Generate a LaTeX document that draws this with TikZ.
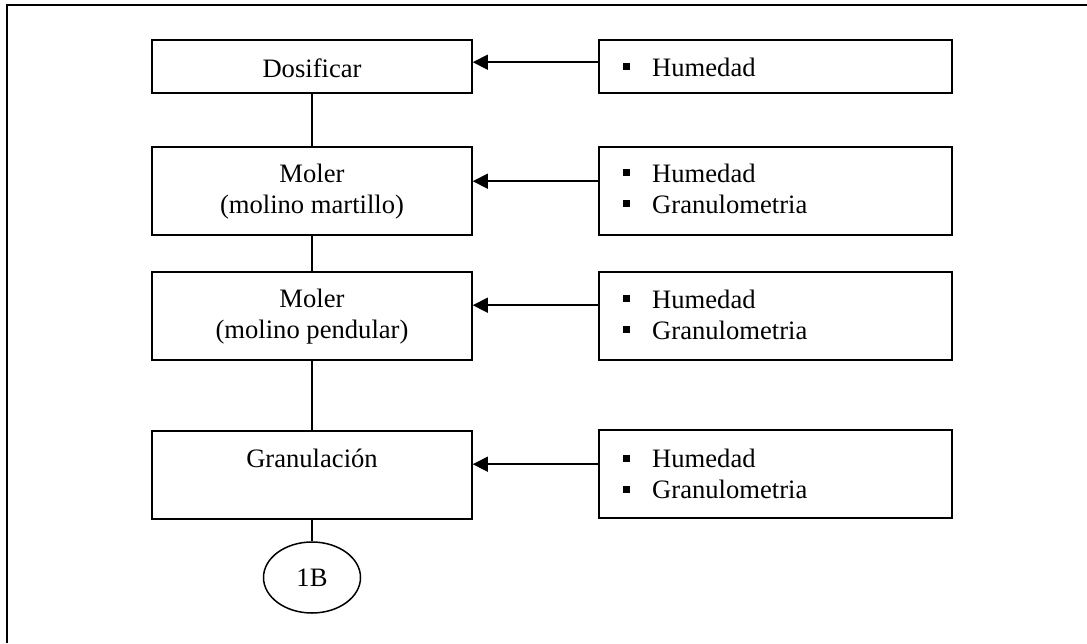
\documentclass[tikz,border=0pt]{standalone}
\usepackage{fontspec}
\setmainfont{Liberation Serif}
\usetikzlibrary{arrows.meta,shapes.geometric}
\begin{document}
\begin{tikzpicture}[x=1pt,y=-1pt,
  every node/.style={font=\fontsize{26.6}{31}\selectfont},
  stepbox/.style={draw,line width=1.6pt,minimum width=320pt,inner sep=0pt},
  infobox/.style={draw,line width=1.6pt,minimum width=353pt,inner sep=0pt},
  txt/.style={anchor=base,inner sep=0pt},
  itemtxt/.style={anchor=base west,inner sep=0pt},
  bulletsq/.style={fill=black,minimum size=7pt,inner sep=0pt},
  link/.style={line width=1.5pt},
  feed/.style={line width=1.5pt,-{Triangle[length=15pt,width=15pt]}}]
\useasboundingbox (0,0) rectangle (1087,643);
% outer frame
\draw[line width=1.6pt] (7,643) -- (7,5) -- (1090,5);

% process steps
\node[stepbox,minimum height=53pt] (dos) at (312,66.5) {};
\node[stepbox,minimum height=88pt] (mol1) at (312,191) {};
\node[stepbox,minimum height=88pt] (mol2) at (312,316) {};
\node[stepbox,minimum height=88pt] (gran) at (312,475) {};
\node[draw,ellipse,line width=1.5pt,minimum width=97pt,minimum height=71pt,inner sep=0pt] (next) at (312,577.5) {1B};

\node[txt] (tdos) at (312,77) {Dosificar};
\node[txt] (tmol1a) at (312,182) {Moler};
\node[txt] (tmol1b) at (312,213) {(molino martillo)};
\node[txt] (tmol2a) at (312,307) {Moler};
\node[txt] (tmol2b) at (312,338) {(molino pendular)};
\node[txt] (tgran) at (312,467) {Granulación};

% controlled variables
\node[infobox,minimum height=53pt] (v1) at (775.5,66.5) {};
\node[infobox,minimum height=88pt] (v2) at (775.5,191) {};
\node[infobox,minimum height=88pt] (v3) at (775.5,316) {};
\node[infobox,minimum height=88pt] (v4) at (775.5,474) {};

\node[bulletsq] (b1a) at (626,66.5) {};
\node[itemtxt] (i1a) at (652,76) {Humedad};

\node[bulletsq] (b2a) at (626,172.5) {};
\node[itemtxt] (i2a) at (652,182) {Humedad};
\node[bulletsq] (b2b) at (626,203.5) {};
\node[itemtxt] (i2b) at (652,213) {Granulometria};

\node[bulletsq] (b3a) at (626,298.5) {};
\node[itemtxt] (i3a) at (652,308) {Humedad};
\node[bulletsq] (b3b) at (626,329.5) {};
\node[itemtxt] (i3b) at (652,339) {Granulometria};

\node[bulletsq] (b4a) at (626,458) {};
\node[itemtxt] (i4a) at (652,467.5) {Humedad};
\node[bulletsq] (b4b) at (626,489) {};
\node[itemtxt] (i4b) at (652,498.5) {Granulometria};

% flow connectors
\draw[link] (dos.south) -- (mol1.north);
\draw[link] (mol1.south) -- (mol2.north);
\draw[link] (mol2.south) -- (gran.north);
\draw[link] (gran.south) -- (next.north);

% feedback arrows
\draw[feed] ([yshift=-23pt]v1.north west) -- ([yshift=-23pt]dos.north east);
\draw[feed] ([yshift=-35pt]v2.north west) -- ([yshift=-35pt]mol1.north east);
\draw[feed] ([yshift=-34pt]v3.north west) -- ([yshift=-34pt]mol2.north east);
\draw[feed] ([yshift=-35pt]v4.north west) -- ([yshift=-34pt]gran.north east);
\end{tikzpicture}
\end{document}
